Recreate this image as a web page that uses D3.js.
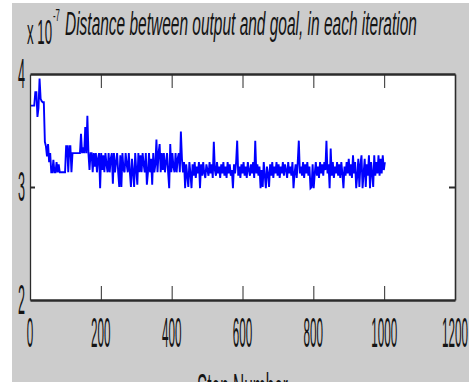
<!DOCTYPE html>
<html>
<head>
<meta charset="utf-8">
<script src="https://cdn.jsdelivr.net/npm/d3@7"></script>
<style>
  html, body { margin: 0; padding: 0; background: #ffffff; }
  svg { display: block; }
</style>
</head>
<body>
<svg id="chart" width="469" height="382"></svg>
<script>
// ---- data -------------------------------------------------------------
const titleText = "Distance between output and goal, in each iteration";
const exponentBase = "x 10";
const exponentPower = "-7";
const xLabelText = "Step Number";
const xTicks = [0, 200, 400, 600, 800, 1000, 1200];
const yTicks = [2, 3, 4];
const xDomain = [0, 1200];
const yDomain = [2, 4];
// one value every 3 iterations (units of 1e-7)
const iterStep = 3;
const distance = [
  3.72,3.72,3.72,3.72,3.72,3.84,3.84,3.62,3.70,3.96,
  3.78,3.76,3.75,3.75,3.40,3.36,3.27,3.38,3.22,3.30,
  3.13,3.13,3.24,3.13,3.13,3.22,3.13,3.20,3.13,3.13,
  3.13,3.13,3.13,3.13,3.36,3.36,3.13,3.36,3.36,3.13,
  3.30,3.30,3.30,3.30,3.30,3.30,3.30,3.30,3.47,3.30,
  3.35,3.30,3.53,3.30,3.63,3.30,3.15,3.30,3.30,3.13,
  3.30,3.18,3.30,3.13,3.25,3.30,2.99,3.30,3.15,3.28,
  3.13,3.30,3.20,3.13,3.30,3.13,3.25,3.30,3.03,3.30,
  3.13,3.22,3.30,3.13,3.00,3.28,3.00,3.30,3.15,3.13,
  3.30,3.20,3.13,3.30,3.13,3.00,3.25,3.13,3.00,3.30,
  3.15,3.02,3.30,3.13,3.28,3.13,3.30,3.20,3.13,3.30,
  3.02,3.13,3.30,3.13,3.25,3.02,3.30,3.13,3.20,3.42,
  3.13,3.30,3.38,3.13,3.30,3.15,3.30,3.13,3.22,3.30,
  3.13,2.99,3.38,3.13,3.30,3.18,3.13,3.30,3.13,3.25,
  3.30,3.13,3.49,3.25,3.13,3.22,2.99,3.20,3.10,3.00,
  3.22,3.12,2.99,3.20,3.10,3.22,3.08,3.18,3.12,3.22,
  2.99,3.20,3.10,3.22,3.12,3.08,3.20,3.15,3.10,3.22,
  3.12,3.20,3.08,3.40,3.15,3.10,3.22,3.12,3.18,3.08,
  3.20,3.12,3.22,3.10,3.18,3.08,3.22,3.12,3.20,3.10,
  3.15,2.99,3.20,3.12,3.22,3.41,3.10,3.18,3.08,3.20,
  3.12,3.22,3.10,3.18,3.08,3.22,3.15,3.10,3.20,3.12,
  3.22,3.08,3.41,3.12,3.20,3.10,3.18,2.99,3.15,3.00,
  3.22,3.10,2.99,3.18,3.12,3.00,3.20,3.10,3.22,3.08,
  3.18,3.12,3.22,3.10,3.20,3.08,3.18,3.12,3.22,3.10,
  3.20,3.15,3.08,3.22,3.12,3.18,3.10,3.22,2.99,3.12,
  3.20,3.08,3.22,3.41,3.12,3.18,3.10,3.22,3.08,3.20,
  3.12,3.22,3.10,3.18,2.99,3.00,3.20,2.99,3.12,3.22,
  3.10,3.18,3.08,3.22,3.12,3.20,3.10,3.22,3.15,3.41,
  3.12,3.20,2.99,3.34,3.10,3.22,3.08,3.18,3.12,3.22,
  3.10,3.20,3.08,3.22,3.12,2.99,3.18,3.10,3.22,3.12,
  3.25,3.10,3.20,3.08,3.28,3.12,3.22,2.99,3.10,3.25,
  3.00,3.20,3.28,2.99,3.12,3.25,3.00,3.20,3.10,3.28,
  2.99,3.22,3.12,3.00,3.28,3.10,3.22,3.12,3.28,3.10,
  3.25,3.12,3.28,3.15,3.22
];

// ---- layout -------------------------------------------------------------
const W = 469, H = 382;
const plot = { left: 30, right: 455, top: 74, bottom: 300 };
const ink = "#141414";
const axisInk = "#2b2b2b";
const font = "'Liberation Sans', Arial, Helvetica, sans-serif";

const svg = d3.select("#chart");

// figure background
svg.append("rect").attr("x", 12).attr("y", 3)
  .attr("width", W - 12).attr("height", H - 3)
  .attr("fill", "#cccccc");

const x = d3.scaleLinear().domain(xDomain).range([plot.left, plot.right]);
const y = d3.scaleLinear().domain(yDomain).range([plot.bottom, plot.top]);

// axes area
svg.append("rect")
  .attr("x", plot.left).attr("y", plot.top)
  .attr("width", plot.right - plot.left).attr("height", plot.bottom - plot.top)
  .attr("fill", "#ffffff");

// data line
const line = d3.line()
  .x((d, i) => x(i * iterStep))
  .y(d => y(d));

svg.append("path")
  .datum(distance)
  .attr("d", line)
  .attr("fill", "none")
  .attr("stroke", "#0000ff")
  .attr("stroke-width", 1.9)
  .attr("stroke-linejoin", "miter");

// axes: ticks point inward, box drawn from the four domains
function styleAxis(g, width) {
  g.selectAll("text").remove();
  g.select(".domain").attr("stroke", axisInk).attr("stroke-width", width);
  g.selectAll(".tick line").attr("stroke", axisInk);
}

const innerX = xTicks.filter(t => t > xDomain[0] && t < xDomain[1]);
const innerY = yTicks.filter(t => t > yDomain[0] && t < yDomain[1]);

svg.append("g").attr("transform", `translate(0,${plot.bottom})`)
  .call(d3.axisBottom(x).tickValues(innerX).tickSizeInner(-14).tickSizeOuter(0))
  .call(g => styleAxis(g, 2.4));

svg.append("g").attr("transform", `translate(0,${plot.top})`)
  .call(d3.axisTop(x).tickValues(innerX).tickSizeInner(-14).tickSizeOuter(0))
  .call(g => styleAxis(g, 2.4));

svg.append("g").attr("transform", `translate(${plot.left},0)`)
  .call(d3.axisLeft(y).tickValues(innerY).tickSizeInner(-5).tickSizeOuter(0))
  .call(g => styleAxis(g, 1.3))
  .call(g => g.selectAll(".tick line").attr("stroke-width", 2));

svg.append("g").attr("transform", `translate(${plot.right},0)`)
  .call(d3.axisRight(y).tickValues(innerY).tickSizeInner(-6).tickSizeOuter(0))
  .call(g => styleAxis(g, 1.6))
  .call(g => g.selectAll(".tick line").attr("stroke-width", 2));

// narrow lettering: each text is squeezed horizontally to a set width
function narrowText(parent, str, opts) {
  const t = parent.append("text")
    .attr("font-family", font)
    .attr("font-size", opts.size)
    .attr("font-style", opts.italic ? "italic" : "normal")
    .attr("fill", ink)
    .text(str);
  const natural = t.node().getComputedTextLength();
  const k = opts.width / natural;
  let left = opts.x;
  if (opts.anchor === "middle") left = opts.x - opts.width / 2;
  if (opts.anchor === "end") left = opts.x - opts.width;
  t.attr("transform", `translate(${left},${opts.y}) scale(${k},1)`);
  return t;
}

const digitW = 6.5;
const xLabels = svg.append("g");
xTicks.forEach(d => narrowText(xLabels, String(d), {
  x: x(d), y: plot.bottom + 47, size: 42,
  width: String(d).length * digitW, anchor: "middle"
}));

const yLabels = svg.append("g");
yTicks.forEach(d => narrowText(yLabels, String(d), {
  x: plot.left - 5, y: y(d) + 14, size: 42,
  width: String(d).length * 7, anchor: "end"
}));

// exponent note and title
narrowText(svg, exponentBase, { x: 27, y: 44, size: 36, width: 25 });
narrowText(svg, exponentPower, { x: 53, y: 21, size: 16, width: 7 });
narrowText(svg, titleText, { x: 65, y: 35, size: 34, width: 352, italic: true });

// x-axis label, partly below the bottom edge of the figure
narrowText(svg, xLabelText, { x: 197, y: 403, size: 42, width: 91 });
</script>
</body>
</html>
